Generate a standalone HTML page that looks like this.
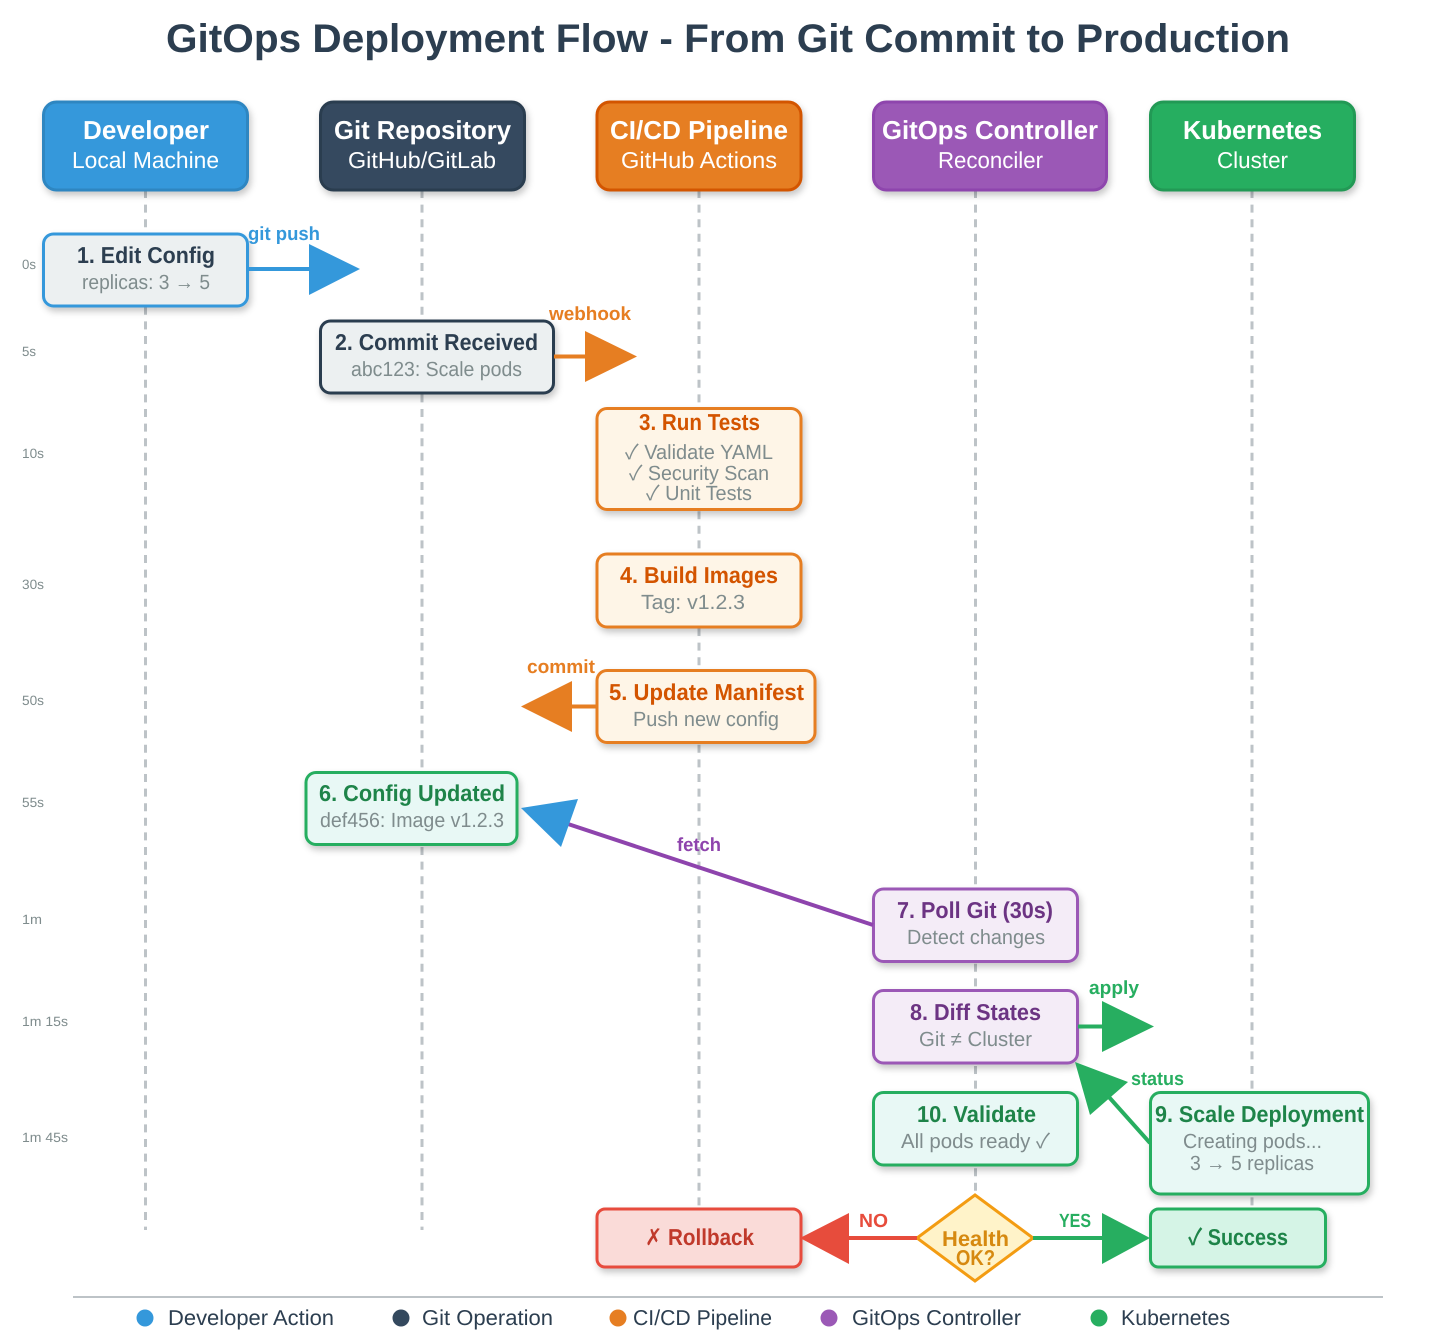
<!DOCTYPE html>
<html><head><meta charset="utf-8"><title>GitOps Deployment Flow</title>
<style>
html,body{margin:0;padding:0;background:#fff;width:1456px;height:1340px;overflow:hidden}
svg{display:block}
text{font-family:"Liberation Sans","Noto Sans CJK SC","DejaVu Sans",sans-serif;text-rendering:geometricPrecision}
.b{font-weight:700}
.h1{font-size:26px;font-weight:700;fill:#fff}
.h2{font-size:23px;fill:#fff}
.t{font-size:23px;font-weight:700}
.s{font-size:20.5px;fill:#7f8c8d}
.tm{font-size:13.5px;fill:#7f8c8d}
.l{font-size:19px;font-weight:700}
.lg{font-size:21.5px;fill:#2c3e50}
</style></head><body>
<svg width="1456" height="1340" viewBox="0 0 1456 1340" xmlns="http://www.w3.org/2000/svg">
<defs><filter id="sh" x="-15%" y="-15%" width="130%" height="140%"><feDropShadow dx="2" dy="4" stdDeviation="3.5" flood-color="#000" flood-opacity=".22"/></filter></defs>
<rect width="1456" height="1340" fill="#fff"/>
<text x="166" y="52" class="b" font-size="40" fill="#2c3e50" textLength="1124" lengthAdjust="spacingAndGlyphs">GitOps Deployment Flow - From Git Commit to Production</text>

<g stroke="#bdc3c7" stroke-width="3" stroke-dasharray="8 6.6">
<line x1="145.500" y1="190" x2="145.500" y2="1230"/><line x1="422" y1="190" x2="422" y2="1230"/><line x1="699" y1="190" x2="699" y2="1230"/><line x1="975.500" y1="190" x2="975.500" y2="1230"/><line x1="1252" y1="190" x2="1252" y2="1230"/>
</g>

<g stroke-width="3" filter="url(#sh)">
<rect x="43.500" y="102" width="204" height="88" rx="13" fill="#3498db" stroke="#2e86c1"/>
<rect x="320.500" y="102" width="204" height="88" rx="13" fill="#34495e" stroke="#2c3e50"/>
<rect x="597" y="102" width="204" height="88" rx="13" fill="#e67e22" stroke="#d35400"/>
<rect x="873.500" y="102" width="233" height="88" rx="13" fill="#9b59b6" stroke="#8e44ad"/>
<rect x="1150.500" y="102" width="204" height="88" rx="13" fill="#27ae60" stroke="#229954"/>
</g>
<text x="83" y="139" class="h1" textLength="126" lengthAdjust="spacingAndGlyphs">Developer</text>
<text x="72" y="168" class="h2" textLength="147" lengthAdjust="spacingAndGlyphs">Local Machine</text>
<text x="334" y="139" class="h1" textLength="177" lengthAdjust="spacingAndGlyphs">Git Repository</text>
<text x="348" y="168" class="h2" textLength="148" lengthAdjust="spacingAndGlyphs">GitHub/GitLab</text>
<text x="610" y="139" class="h1" textLength="178" lengthAdjust="spacingAndGlyphs">CI/CD Pipeline</text>
<text x="621" y="168" class="h2" textLength="156" lengthAdjust="spacingAndGlyphs">GitHub Actions</text>
<text x="882" y="139" class="h1" textLength="216" lengthAdjust="spacingAndGlyphs">GitOps Controller</text>
<text x="938" y="168" class="h2" textLength="105" lengthAdjust="spacingAndGlyphs">Reconciler</text>
<text x="1183" y="139" class="h1" textLength="139" lengthAdjust="spacingAndGlyphs">Kubernetes</text>
<text x="1217" y="168" class="h2" textLength="71" lengthAdjust="spacingAndGlyphs">Cluster</text>

<text x="22" y="269" class="tm" textLength="14" lengthAdjust="spacingAndGlyphs">0s</text>
<text x="22" y="356" class="tm" textLength="14" lengthAdjust="spacingAndGlyphs">5s</text>
<text x="22" y="458" class="tm" textLength="22" lengthAdjust="spacingAndGlyphs">10s</text>
<text x="22" y="589" class="tm" textLength="22" lengthAdjust="spacingAndGlyphs">30s</text>
<text x="22" y="705" class="tm" textLength="22" lengthAdjust="spacingAndGlyphs">50s</text>
<text x="22" y="807" class="tm" textLength="22" lengthAdjust="spacingAndGlyphs">55s</text>
<text x="22" y="924" class="tm" textLength="20" lengthAdjust="spacingAndGlyphs">1m</text>
<text x="22" y="1026" class="tm" textLength="46" lengthAdjust="spacingAndGlyphs">1m 15s</text>
<text x="22" y="1142" class="tm" textLength="46" lengthAdjust="spacingAndGlyphs">1m 45s</text>

<g stroke-width="3" filter="url(#sh)">
<rect x="43.500" y="234" width="204" height="72" rx="10" fill="#ecf0f1" stroke="#3498db"/>
<rect x="320.500" y="321" width="233" height="72" rx="10" fill="#ecf0f1" stroke="#2c3e50"/>
<rect x="597" y="408.500" width="204" height="101" rx="10" fill="#fef5e7" stroke="#e67e22"/>
<rect x="597" y="554" width="204" height="73" rx="10" fill="#fef5e7" stroke="#e67e22"/>
<rect x="597" y="670.500" width="218" height="72" rx="10" fill="#fef5e7" stroke="#e67e22"/>
<rect x="306" y="772.500" width="211" height="72" rx="10" fill="#e8f8f5" stroke="#27ae60"/>
<rect x="873.500" y="889" width="204" height="72.500" rx="10" fill="#f4ecf7" stroke="#9b59b6"/>
<rect x="873.500" y="990.500" width="204" height="72.500" rx="10" fill="#f4ecf7" stroke="#9b59b6"/>
<rect x="873.500" y="1092.500" width="204" height="72.500" rx="10" fill="#e8f8f5" stroke="#27ae60"/>
<rect x="1150.500" y="1092.500" width="218" height="101.500" rx="10" fill="#e8f8f5" stroke="#27ae60"/>
<rect x="597" y="1209" width="204" height="58" rx="8" fill="#fadbd8" stroke="#e74c3c"/>
<rect x="1150.500" y="1209" width="175" height="58" rx="8" fill="#d5f4e6" stroke="#27ae60"/>
</g>

<text x="77" y="263" class="t" fill="#2c3e50" textLength="138" lengthAdjust="spacingAndGlyphs">1. Edit Config</text>
<text x="82" y="289" class="s" textLength="128" lengthAdjust="spacingAndGlyphs">replicas: 3 → 5</text>
<text x="335" y="350" class="t" fill="#2c3e50" textLength="203" lengthAdjust="spacingAndGlyphs">2. Commit Received</text>
<text x="351" y="376" class="s" textLength="171" lengthAdjust="spacingAndGlyphs">abc123: Scale pods</text>
<text x="639" y="430" class="t" fill="#d35400" textLength="121" lengthAdjust="spacingAndGlyphs">3. Run Tests</text>
<text x="625" y="459" class="s" textLength="148" lengthAdjust="spacingAndGlyphs">✓ Validate YAML</text>
<text x="629" y="480" class="s" textLength="140" lengthAdjust="spacingAndGlyphs">✓ Security Scan</text>
<text x="646" y="500" class="s" textLength="106" lengthAdjust="spacingAndGlyphs">✓ Unit Tests</text>
<text x="620" y="583" class="t" fill="#d35400" textLength="158" lengthAdjust="spacingAndGlyphs">4. Build Images</text>
<text x="641" y="609" class="s" textLength="104" lengthAdjust="spacingAndGlyphs">Tag: v1.2.3</text>
<text x="609" y="700" class="t" fill="#d35400" textLength="195" lengthAdjust="spacingAndGlyphs">5. Update Manifest</text>
<text x="633" y="726" class="s" textLength="146" lengthAdjust="spacingAndGlyphs">Push new config</text>
<text x="319" y="801" class="t" fill="#1e8449" textLength="186" lengthAdjust="spacingAndGlyphs">6. Config Updated</text>
<text x="320" y="827" class="s" textLength="184" lengthAdjust="spacingAndGlyphs">def456: Image v1.2.3</text>
<text x="897" y="918" class="t" fill="#6c3483" textLength="156" lengthAdjust="spacingAndGlyphs">7. Poll Git (30s)</text>
<text x="907" y="944" class="s" textLength="138" lengthAdjust="spacingAndGlyphs">Detect changes</text>
<text x="910" y="1020" class="t" fill="#6c3483" textLength="131" lengthAdjust="spacingAndGlyphs">8. Diff States</text>
<text x="919" y="1046" class="s" textLength="113" lengthAdjust="spacingAndGlyphs">Git ≠ Cluster</text>
<text x="917" y="1122" class="t" fill="#1e8449" textLength="119" lengthAdjust="spacingAndGlyphs">10. Validate</text>
<text x="901" y="1148" class="s" textLength="149" lengthAdjust="spacingAndGlyphs">All pods ready ✓</text>
<text x="1155" y="1122" class="t" fill="#1e8449" textLength="209" lengthAdjust="spacingAndGlyphs">9. Scale Deployment</text>
<text x="1183" y="1148" class="s" textLength="139" lengthAdjust="spacingAndGlyphs">Creating pods...</text>
<text x="1190" y="1170" class="s" textLength="124" lengthAdjust="spacingAndGlyphs">3 → 5 replicas</text>
<text x="645" y="1245" class="t" fill="#c0392b" textLength="109" lengthAdjust="spacingAndGlyphs">✗ Rollback</text>
<text x="1188" y="1245" class="t" fill="#1e8449" textLength="100" lengthAdjust="spacingAndGlyphs">✓ Success</text>

<polygon points="975,1195 1033,1238 975,1281 917,1238" fill="#fff3c9" stroke="#f39c12" stroke-width="3"/>
<text x="942" y="1246" class="b" font-size="21.500" fill="#d68910" textLength="67" lengthAdjust="spacingAndGlyphs">Health</text>
<text x="956" y="1265" class="b" font-size="21.500" fill="#d68910" textLength="39" lengthAdjust="spacingAndGlyphs">OK?</text>

<line x1="248" y1="269" x2="310" y2="269" stroke="#3498db" stroke-width="4"/>
<polygon points="309,244 360,269 309,295" fill="#3498db"/>
<text x="248" y="240" class="l" fill="#3498db" textLength="72" lengthAdjust="spacingAndGlyphs">git push</text>
<line x1="554" y1="356.500" x2="586" y2="356.500" stroke="#e67e22" stroke-width="4"/>
<polygon points="585,331 637,356.500 585,382" fill="#e67e22"/>
<text x="549" y="320" class="l" fill="#e67e22" textLength="82" lengthAdjust="spacingAndGlyphs">webhook</text>
<line x1="597" y1="706.500" x2="571" y2="706.500" stroke="#e67e22" stroke-width="4"/>
<polygon points="572,681 521,706.500 572,732" fill="#e67e22"/>
<text x="527" y="673" class="l" fill="#e67e22" textLength="68" lengthAdjust="spacingAndGlyphs">commit</text>
<line x1="873" y1="925" x2="565" y2="823" stroke="#8e44ad" stroke-width="4"/>
<polygon points="521,808 578,799 561,847" fill="#3498db"/>
<text x="677" y="851" class="l" fill="#8e44ad" textLength="44" lengthAdjust="spacingAndGlyphs">fetch</text>
<line x1="1078" y1="1026.500" x2="1103" y2="1026.500" stroke="#27ae60" stroke-width="4"/>
<polygon points="1102,1001 1154,1026.500 1102,1052" fill="#27ae60"/>
<text x="1089" y="994" class="l" fill="#27ae60" textLength="50" lengthAdjust="spacingAndGlyphs">apply</text>
<line x1="1150" y1="1143" x2="1108" y2="1096" stroke="#27ae60" stroke-width="4"/>
<polygon points="1075,1062 1128,1082 1090,1115" fill="#27ae60"/>
<text x="1131" y="1085" class="l" fill="#27ae60" textLength="53" lengthAdjust="spacingAndGlyphs">status</text>
<line x1="917" y1="1238" x2="848" y2="1238" stroke="#e74c3c" stroke-width="4"/>
<polygon points="849,1213 800,1238 849,1264" fill="#e74c3c"/>
<text x="859" y="1227" class="l" fill="#e74c3c" textLength="29" lengthAdjust="spacingAndGlyphs">NO</text>
<line x1="1033" y1="1238" x2="1103" y2="1238" stroke="#27ae60" stroke-width="4"/>
<polygon points="1102,1213 1150,1238 1102,1264" fill="#27ae60"/>
<text x="1059" y="1227" class="l" fill="#27ae60" textLength="32" lengthAdjust="spacingAndGlyphs">YES</text>

<line x1="73" y1="1297" x2="1383" y2="1297" stroke="#bdc3c7" stroke-width="2"/>
<circle cx="145" cy="1318" r="8.500" fill="#3498db"/><text x="168" y="1325" class="lg" textLength="166" lengthAdjust="spacingAndGlyphs">Developer Action</text>
<circle cx="401" cy="1318" r="8.500" fill="#34495e"/><text x="422" y="1325" class="lg" textLength="131" lengthAdjust="spacingAndGlyphs">Git Operation</text>
<circle cx="618" cy="1318" r="8.500" fill="#e67e22"/><text x="633" y="1325" class="lg" textLength="139" lengthAdjust="spacingAndGlyphs">CI/CD Pipeline</text>
<circle cx="829" cy="1318" r="8.500" fill="#9b59b6"/><text x="852" y="1325" class="lg" textLength="169" lengthAdjust="spacingAndGlyphs">GitOps Controller</text>
<circle cx="1099" cy="1318" r="8.500" fill="#27ae60"/><text x="1121" y="1325" class="lg" textLength="109" lengthAdjust="spacingAndGlyphs">Kubernetes</text>
</svg>
</body></html>
